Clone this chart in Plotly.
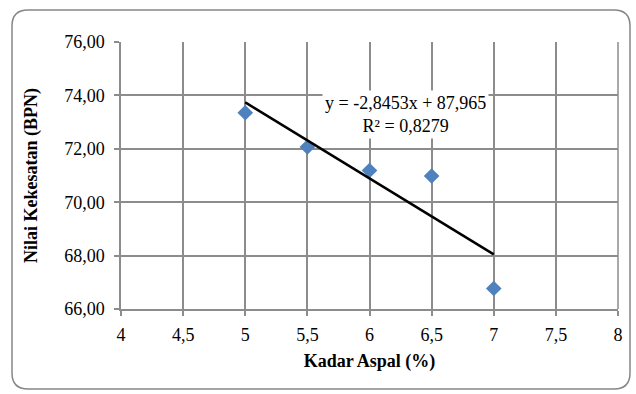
import plotly.graph_objects as go

# ---- data ----
kadar_aspal = [5, 5.5, 6, 6.5, 7]
nilai_kekesatan = [73.35, 72.07, 71.19, 70.98, 66.77]
trend_slope = -2.8453
trend_intercept = 87.965
r_squared = 0.8279
x_ticks = [4, 4.5, 5, 5.5, 6, 6.5, 7, 7.5, 8]
x_ticklabels = ["4", "4,5", "5", "5,5", "6", "6,5", "7", "7,5", "8"]
y_ticks = [66, 68, 70, 72, 74, 76]
y_ticklabels = ["66,00", "68,00", "70,00", "72,00", "74,00", "76,00"]

W, H = 636, 394
L, R, T, B = 121, 18, 42, 85
pw, ph = W - L - R, H - T - B

def px(x):
    return (x - L) / pw

def py(y):
    return (H - B - y) / ph

SERIF = "Liberation Serif"

trend_x = [min(kadar_aspal), max(kadar_aspal)]
trend_y = [trend_slope * v + trend_intercept for v in trend_x]

fig = go.Figure()
fig.add_trace(go.Scatter(
    x=kadar_aspal, y=nilai_kekesatan, mode="markers",
    marker=dict(symbol="diamond", size=12, color="#4F81BD"),
    showlegend=False, cliponaxis=False))
fig.add_trace(go.Scatter(
    x=trend_x, y=trend_y, mode="lines",
    line=dict(color="black", width=2.5), showlegend=False))

def fmt(v, d):
    return f"{v:.{d}f}".replace(".", ",")

eq = f"y = {fmt(trend_slope,4)}x + {fmt(trend_intercept,3)}<br>R² = {fmt(r_squared,4)}"
fig.add_annotation(x=6.29, y=73.3, xref="x", yref="y", text=eq, showarrow=False,
                   bgcolor="white", borderpad=2,
                   font=dict(family=SERIF, size=18, color="black"))

# rounded chart border
x0, y0, x1, y1, r = 12, 10, 630, 389, 16
path = (f"M {px(x0+r)},{py(y0)} L {px(x1-r)},{py(y0)} Q {px(x1)},{py(y0)} {px(x1)},{py(y0+r)} "
        f"L {px(x1)},{py(y1-r)} Q {px(x1)},{py(y1)} {px(x1-r)},{py(y1)} "
        f"L {px(x0+r)},{py(y1)} Q {px(x0)},{py(y1)} {px(x0)},{py(y1-r)} "
        f"L {px(x0)},{py(y0+r)} Q {px(x0)},{py(y0)} {px(x0+r)},{py(y0)} Z")
fig.add_shape(type="path", path=path, xref="paper", yref="paper",
              line=dict(color="#868686", width=1.5), layer="below")

axis_font = dict(family=SERIF, size=18, color="black")
title_font = dict(family=SERIF, size=18, color="black")

fig.update_xaxes(range=[4, 8], tickvals=x_ticks, ticktext=x_ticklabels,
                 showgrid=True, gridcolor="#8C8C8C", gridwidth=1.5,
                 showline=True, linecolor="#8C8C8C", linewidth=1.5,
                 ticks="outside", ticklen=5, tickcolor="#8C8C8C", tickwidth=1.5,
                 zeroline=False, tickfont=axis_font, ticklabelstandoff=4,
                 title=dict(text="<b>Kadar Aspal (%)</b>", font=title_font, standoff=10))
fig.update_yaxes(range=[66, 76], tickvals=y_ticks, ticktext=y_ticklabels,
                 showgrid=True, gridcolor="#8C8C8C", gridwidth=1.5,
                 showline=True, linecolor="#8C8C8C", linewidth=1.5,
                 ticks="outside", ticklen=5, tickcolor="#8C8C8C", tickwidth=1.5,
                 zeroline=False, tickfont=axis_font, ticklabelstandoff=6,
                 title=dict(text="<b>Nilai Kekesatan (BPN)</b>", font=title_font, standoff=22))
fig.add_shape(type="line", xref="paper", yref="paper", x0=1, x1=1, y0=0, y1=1,
              line=dict(color="#8C8C8C", width=1.5), layer="below")

fig.update_layout(width=W, height=H, margin=dict(l=L, r=R, t=T, b=B),
                  paper_bgcolor="white", plot_bgcolor="white")
fig.write_html("out.html")
